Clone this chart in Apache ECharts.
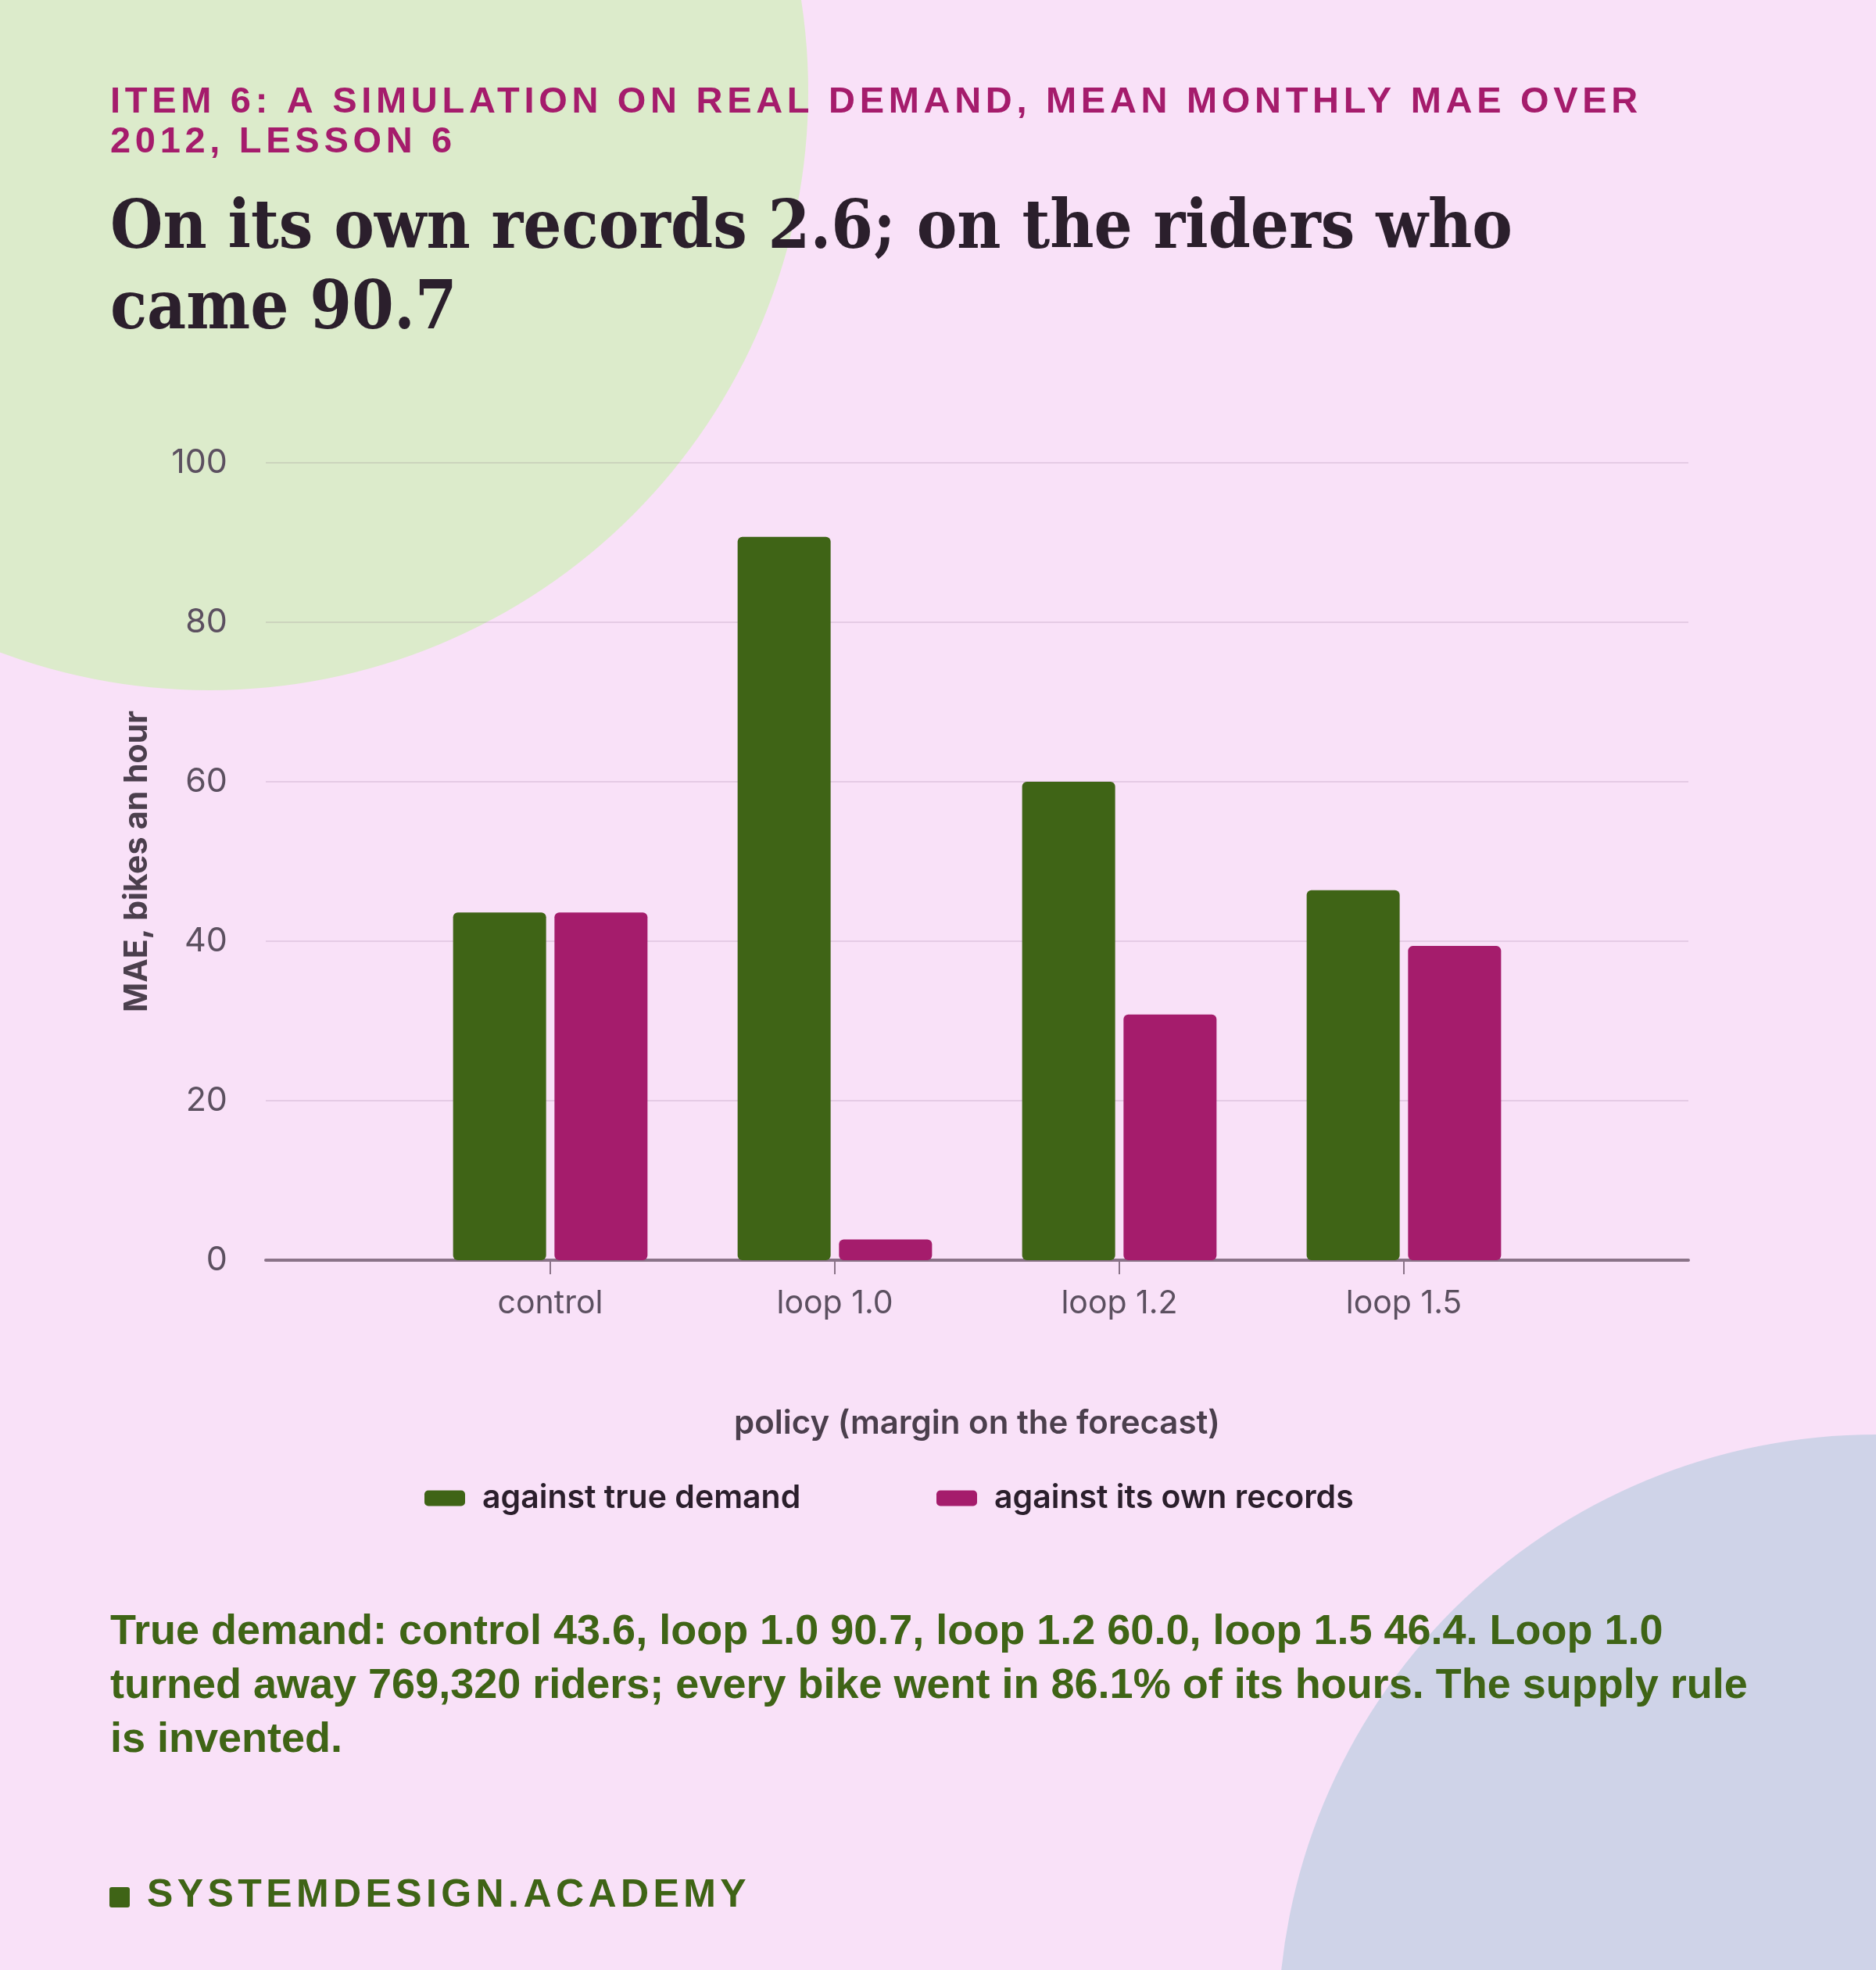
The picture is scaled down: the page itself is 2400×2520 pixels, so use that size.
<!DOCTYPE html>
<html>
<head>
<meta charset="utf-8">
<script src="https://cdn.jsdelivr.net/npm/echarts@6/dist/echarts.min.js"></script>
<style>
  html, body { margin: 0; padding: 0; background: #f9e1f8; }
  #chart { width: 2400px; height: 2520px; }
</style>
</head>
<body>
<div id="chart"></div>
<script>
// ---- data ----
const categories = ['control', 'loop 1.0', 'loop 1.2', 'loop 1.5'];
const trueDemand = [43.6, 90.7, 60.0, 46.4];
const ownRecords = [43.6, 2.6, 30.8, 39.4];
const yTicks = [0, 20, 40, 60, 80, 100];
const seriesNames = ['against true demand', 'against its own records'];

const kickerLines = ['ITEM 6: A SIMULATION ON REAL DEMAND, MEAN MONTHLY MAE OVER', '2012, LESSON 6'];
const titleLines = ['On its own records 2.6; on the riders who', 'came 90.7'];
const noteLines = [
  'True demand: control 43.6, loop 1.0 90.7, loop 1.2 60.0, loop 1.5 46.4. Loop 1.0',
  'turned away 769,320 riders; every bike went in 86.1% of its hours. The supply rule',
  'is invented.'
];
const brandText = 'SYSTEMDESIGN.ACADEMY';

// ---- letter-spaced lines (canvas letterSpacing, scoped with save/restore) ----
const SPACING = new Map();
kickerLines.forEach(l => SPACING.set(l, 5.7));
SPACING.set(brandText, 5.4);
(function () {
  const proto = CanvasRenderingContext2D.prototype;
  const orig = proto.fillText;
  proto.fillText = function (t) {
    const s = SPACING.get(t);
    if (s && 'letterSpacing' in this) {
      this.save();
      const f = this.font;
      this.letterSpacing = s + 'px';
      this.font = f;
      const r = orig.apply(this, arguments);
      this.restore();
      this.letterSpacing = '0px';
      this.font = f;
      return r;
    }
    return orig.apply(this, arguments);
  };
})();

const GREEN = '#3f6416';
const MAGENTA = '#a51c6c';
const SANS = 'Inter, "Noto Sans", sans-serif';

// padded category axis: empty slots at both ends
const axisCats = [''].concat(categories, ['']);
const pad = arr => [null].concat(arr, [null]);

const chart = echarts.init(document.getElementById('chart'), null, { renderer: 'canvas' });

chart.setOption({
  animation: false,
  backgroundColor: '#f9e1f8',
  textStyle: { fontFamily: SANS },
  graphic: [
    { type: 'circle', z: -100, silent: true, shape: { cx: 268, cy: 117, r: 766 }, style: { fill: '#dcebcb' } },
    { type: 'circle', z: -100, silent: true, shape: { cx: 2400, cy: 2600, r: 765 }, style: { fill: '#cfd3e8' } },
    {
      type: 'text', left: 141, top: 105, silent: true,
      style: {
        text: kickerLines.join('\n'),
        font: 'bold 47px "Liberation Sans", Arial, sans-serif',
        fill: MAGENTA, lineHeight: 51.5
      }
    },
    {
      type: 'text', left: 141, top: 243, silent: true,
      style: {
        text: titleLines.join('\n'),
        font: 'bold 86px "DejaVu Serif Condensed", "DejaVu Serif", serif',
        fill: '#2b1f2c', lineHeight: 103
      }
    },
    {
      type: 'text', left: 141, top: 2054, silent: true,
      style: {
        text: noteLines.join('\n'),
        font: 'bold 54px "Liberation Sans", Arial, sans-serif',
        fill: GREEN, lineHeight: 69
      }
    },
    {
      type: 'rect', silent: true,
      shape: { x: 140, y: 2414, width: 26, height: 26, r: 3 },
      style: { fill: GREEN }
    },
    {
      type: 'text', left: 188, top: 2400, silent: true,
      style: {
        text: brandText,
        font: 'bold 50px "Liberation Sans", Arial, sans-serif',
        fill: GREEN, lineHeight: 50
      }
    }
  ],
  grid: { left: 340, right: 240, top: 592, bottom: 908, containLabel: false },
  legend: [
    {
      data: [seriesNames[0]], left: 538, top: 1891,
      itemWidth: 52, itemHeight: 20, icon: 'roundRect',
      textStyle: { fontFamily: SANS, fontSize: 41, fontWeight: 600, color: '#2b1f2c', padding: [0, 0, 0, 17] }
    },
    {
      data: [seriesNames[1]], left: 1193, top: 1891,
      itemWidth: 52, itemHeight: 20, icon: 'roundRect',
      textStyle: { fontFamily: SANS, fontSize: 41, fontWeight: 600, color: '#2b1f2c', padding: [0, 0, 0, 17] }
    }
  ],
  xAxis: {
    type: 'category',
    data: axisCats,
    boundaryGap: false,
    name: 'policy (margin on the forecast)',
    nameLocation: 'middle',
    nameGap: 188,
    nameTextStyle: { fontFamily: SANS, fontSize: 42, fontWeight: 600, color: '#4b3f4d' },
    axisLine: { show: true, lineStyle: { color: '#8a7388', width: 4 } },
    axisTick: {
      show: true, length: 18,
      interval: (i, v) => v !== '',
      lineStyle: { color: '#8a7388', width: 2 }
    },
    axisLabel: { interval: 0, margin: 35, fontFamily: SANS, fontSize: 41, color: '#5c5060' },
    splitLine: { show: false }
  },
  yAxis: {
    type: 'value',
    min: yTicks[0],
    max: yTicks[yTicks.length - 1],
    interval: yTicks[1] - yTicks[0],
    name: 'MAE, bikes an hour',
    nameLocation: 'middle',
    nameGap: 144,
    nameRotate: 90,
    nameTextStyle: { fontFamily: SANS, fontSize: 41, fontWeight: 700, color: '#4b3f4d' },
    axisLine: { show: false },
    axisTick: { show: false },
    axisLabel: { margin: 49, fontFamily: SANS, fontSize: 43, color: '#5c5060' },
    splitLine: { show: true, lineStyle: { color: 'rgba(100,60,100,0.13)', width: 2 } }
  },
  series: [
    {
      name: seriesNames[0], type: 'bar', data: pad(trueDemand),
      barWidth: 119, barGap: '9%',
      itemStyle: { color: GREEN, borderRadius: 6 }
    },
    {
      name: seriesNames[1], type: 'bar', data: pad(ownRecords),
      barWidth: 119, barGap: '9%',
      itemStyle: { color: MAGENTA, borderRadius: 6 }
    }
  ]
});
</script>
</body>
</html>
